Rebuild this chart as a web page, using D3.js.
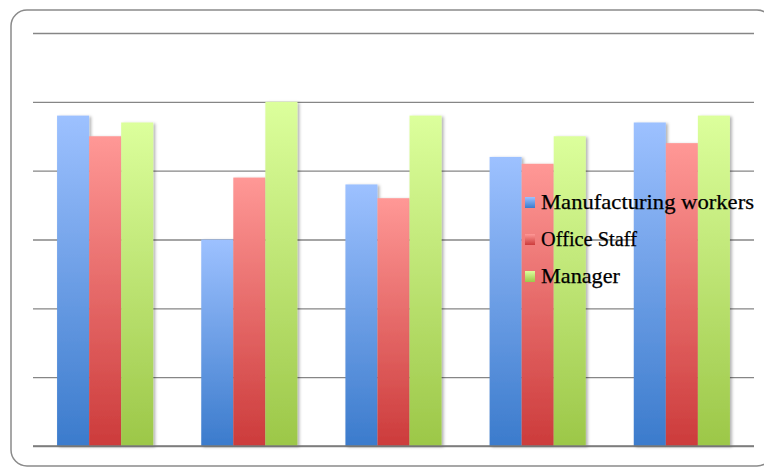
<!DOCTYPE html>
<html><head><meta charset="utf-8">
<script src="https://cdn.jsdelivr.net/npm/d3@7"></script>
<style>html,body{margin:0;padding:0;background:#fff;}svg{display:block;}</style>
</head><body>
<svg id="c" width="764" height="468"></svg>
<script>
const categories = ["G1", "G2", "G3", "G4", "G5"];
const seriesNames = ["Manufacturing workers", "Office Staff", "Manager"];
const manufacturing = [4.8, 3.0, 3.8, 4.2, 4.7];
const officeStaff = [4.5, 3.9, 3.6, 4.1, 4.4];
const manager = [4.7, 5.0, 4.8, 4.5, 4.8];
const yTicks = [0, 1, 2, 3, 4, 5, 6];

const seriesValues = [manufacturing, officeStaff, manager];
const colors = [
  {top: "#9dc1ff", bot: "#3b7bcc"},
  {top: "#ff9896", bot: "#cc3b3b"},
  {top: "#dcff9c", bot: "#9cc748"}
];

const svg = d3.select("#c");
const plot = {left: 33, right: 754, top: 33, bottom: 446};

const defs = svg.append("defs");
colors.forEach((c, i) => {
  const g = defs.append("linearGradient").attr("id", "g" + i)
    .attr("x1", 0).attr("y1", 0).attr("x2", 0).attr("y2", 1);
  g.append("stop").attr("offset", "0%").attr("stop-color", c.top);
  g.append("stop").attr("offset", "100%").attr("stop-color", c.bot);
});
const f = defs.append("filter").attr("id", "sh").attr("x", "-20%").attr("y", "-5%").attr("width", "150%").attr("height", "115%");
f.append("feDropShadow").attr("dx", 2).attr("dy", 1).attr("stdDeviation", 1.5)
  .attr("flood-color", "#000").attr("flood-opacity", 0.3);

// frame
svg.append("rect").attr("x", 11).attr("y", 10).attr("width", 762).attr("height", 456)
  .attr("rx", 16).attr("ry", 16).attr("fill", "#fff").attr("stroke", "#8a8a8a").attr("stroke-width", 1.5);

const x0 = d3.scaleBand().domain(categories).range([plot.left, plot.right]).paddingInner(0.333).paddingOuter(0.167);
const x1 = d3.scaleBand().domain(seriesNames).range([0, x0.bandwidth()]);
const y = d3.scaleLinear().domain([0, 6]).range([plot.bottom, plot.top]);

// gridlines
const yAxis = d3.axisLeft(y).tickValues(yTicks).tickSize(-(plot.right - plot.left)).tickFormat("");
const ga = svg.append("g").attr("transform", `translate(${plot.left},0)`).call(yAxis);
ga.select(".domain").remove();
ga.selectAll(".tick line").attr("stroke", "#868686").attr("stroke-width", 1.3);

// bars
const groups = svg.append("g").selectAll("g").data(categories).join("g")
  .attr("transform", d => `translate(${x0(d)},0)`);
groups.selectAll("rect").data((d, gi) => seriesNames.map((s, si) => ({s, si, v: seriesValues[si][gi]})))
  .join("rect")
  .attr("x", d => x1(d.s))
  .attr("y", d => y(d.v))
  .attr("width", x1.bandwidth())
  .attr("height", d => y(0) - y(d.v))
  .attr("fill", d => `url(#g${d.si})`)
  .attr("filter", "url(#sh)");

// bottom axis line
svg.append("line").attr("x1", plot.left).attr("x2", plot.right).attr("y1", y(0)).attr("y2", y(0))
  .attr("stroke", "#7a7a7a").attr("stroke-width", 1.5);

// legend
const legendWidths = [213, 96, 79];
const leg = svg.append("g").attr("transform", "translate(525,197)");
const li = leg.selectAll("g").data(seriesNames).join("g").attr("transform", (d, i) => `translate(0,${i * 37})`);
li.append("rect").attr("width", 10).attr("height", 11).attr("fill", (d, i) => `url(#g${i})`);
li.append("text").attr("x", 16).attr("y", 12)
  .attr("font-family", "Liberation Serif, DejaVu Serif, serif").attr("font-size", 21)
  .attr("fill", "#000").attr("stroke", "#000").attr("stroke-width", 0.25)
  .attr("textLength", (d, i) => legendWidths[i]).attr("lengthAdjust", "spacingAndGlyphs")
  .text(d => d);
</script>
</body></html>
